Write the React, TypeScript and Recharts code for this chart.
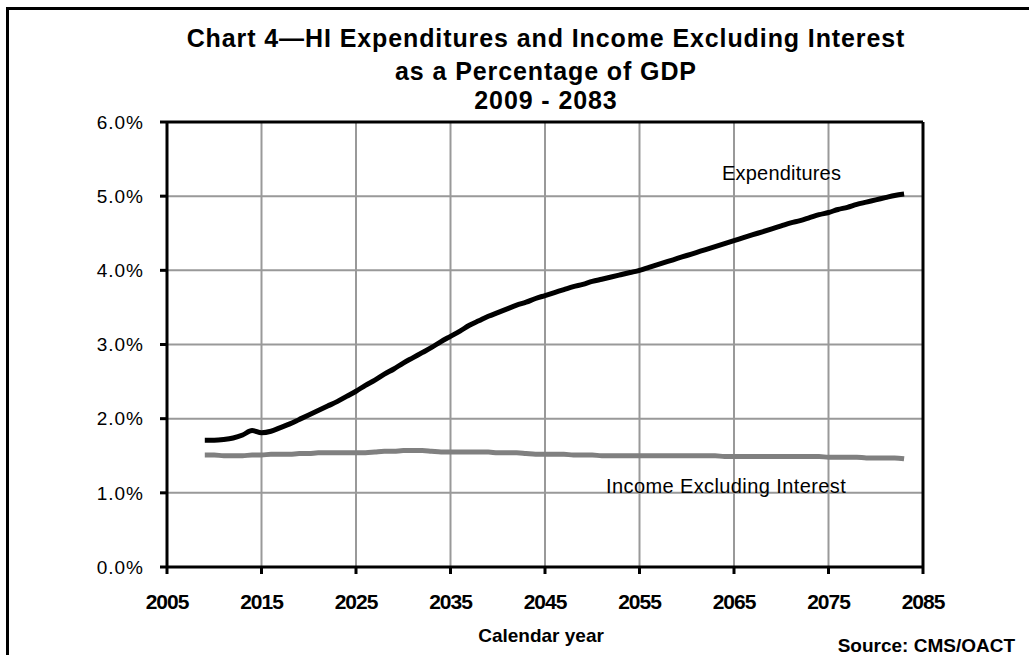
import React from 'react';
import { LineChart, Line, XAxis, YAxis, CartesianGrid, ReferenceLine } from 'recharts';

const years: number[] = [];
for (let y = 2009; y <= 2083; y++) years.push(y);

const expenditures = [
  1.71, 1.71, 1.72, 1.74, 1.78, 1.84, 1.81, 1.83, 1.88, 1.93,
  1.99, 2.05, 2.11, 2.17, 2.23, 2.30, 2.37, 2.45, 2.52, 2.60,
  2.67, 2.75, 2.82, 2.89, 2.96, 3.04, 3.11, 3.18, 3.26, 3.32,
  3.38, 3.43, 3.48, 3.53, 3.57, 3.62, 3.66, 3.70, 3.74, 3.78,
  3.81, 3.85, 3.88, 3.91, 3.94, 3.97, 4.00, 4.04, 4.08, 4.12,
  4.16, 4.20, 4.24, 4.28, 4.32, 4.36, 4.40, 4.44, 4.48, 4.52,
  4.56, 4.60, 4.64, 4.67, 4.71, 4.75, 4.78, 4.82, 4.85, 4.89,
  4.92, 4.95, 4.98, 5.01, 5.03,
];

const income = [
  1.51, 1.51, 1.50, 1.50, 1.50, 1.51, 1.51, 1.52, 1.52, 1.52,
  1.53, 1.53, 1.54, 1.54, 1.54, 1.54, 1.54, 1.54, 1.55, 1.56,
  1.56, 1.57, 1.57, 1.57, 1.56, 1.55, 1.55, 1.55, 1.55, 1.55,
  1.55, 1.54, 1.54, 1.54, 1.53, 1.52, 1.52, 1.52, 1.52, 1.51,
  1.51, 1.51, 1.50, 1.50, 1.50, 1.50, 1.50, 1.50, 1.50, 1.50,
  1.50, 1.50, 1.50, 1.50, 1.50, 1.49, 1.49, 1.49, 1.49, 1.49,
  1.49, 1.49, 1.49, 1.49, 1.49, 1.49, 1.48, 1.48, 1.48, 1.48,
  1.47, 1.47, 1.47, 1.47, 1.46,
];

const xTicks = [2005, 2015, 2025, 2035, 2045, 2055, 2065, 2075, 2085];
const yTicks = [0, 1, 2, 3, 4, 5, 6];

const titleLines = [
  'Chart 4\u2014HI Expenditures and Income Excluding Interest',
  'as a Percentage of GDP',
  '2009 - 2083',
];

const data = years.map((year, i) => ({
  year,
  expenditures: expenditures[i],
  income: income[i],
}));

const FONT = '"Liberation Sans", Arial, sans-serif';

export default function App() {
  return (
    <div style={{ position: 'absolute', left: 0, top: 0, width: 1029, height: 655, background: '#fff', overflow: 'hidden' }}>
      <div
        style={{
          position: 'absolute',
          left: 6,
          top: 7,
          width: 1030,
          height: 660,
          borderTop: '3px solid #000',
          borderLeft: '3px solid #000',
          boxSizing: 'border-box',
        }}
      />
      <div style={{ position: 'absolute', left: 0, top: 0 }}>
        <LineChart
          width={1029}
          height={655}
          data={data}
          margin={{ top: 122, right: 106, bottom: 48, left: 107 }}
        >
          <CartesianGrid stroke="#999" strokeWidth={2} />
          <XAxis
            dataKey="year"
            type="number"
            domain={[2005, 2085]}
            ticks={xTicks}
            height={40}
            interval={0}
            axisLine={{ stroke: '#000', strokeWidth: 3 }}
            tickLine={{ stroke: '#000', strokeWidth: 3 }}
            tickSize={7}
            tickMargin={20}
            tick={{ fill: '#000', fontSize: 21, fontWeight: 700, fontFamily: FONT, letterSpacing: -1 }}
          />
          <YAxis
            type="number"
            domain={[0, 6]}
            ticks={yTicks}
            width={60}
            interval={0}
            axisLine={{ stroke: '#000', strokeWidth: 3 }}
            tickLine={{ stroke: '#000', strokeWidth: 3 }}
            tickSize={7}
            tickMargin={16}
            tickFormatter={(v: number) => v.toFixed(1) + '%'}
            tick={{ fill: '#000', fontSize: 19, fontFamily: FONT, letterSpacing: 1 }}
          />
          <ReferenceLine y={6} stroke="#000" strokeWidth={3} />
          <ReferenceLine x={2085} stroke="#000" strokeWidth={3} />
          <Line
            type="monotone"
            dataKey="income"
            stroke="#808080"
            strokeWidth={5}
            dot={false}
            isAnimationActive={false}
          />
          <Line
            type="monotone"
            dataKey="expenditures"
            stroke="#000"
            strokeWidth={5}
            dot={false}
            isAnimationActive={false}
          />
        </LineChart>
      </div>
      <svg
        width={1029}
        height={655}
        style={{ position: 'absolute', left: 0, top: 0, pointerEvents: 'none' }}
      >
        <g fontFamily={FONT} fontWeight={700} fill="#000" textAnchor="middle" fontSize={25}>
          <text x={546} y={47} letterSpacing={0.9}>{titleLines[0]}</text>
          <text x={546} y={80} letterSpacing={0.9}>{titleLines[1]}</text>
          <text x={546} y={108.5} letterSpacing={0.9}>{titleLines[2]}</text>
        </g>
        <text x={541} y={642} textAnchor="middle" fontFamily={FONT} fontWeight={700} fontSize={19}>
          Calendar year
        </text>
        <text x={1015} y={652} textAnchor="end" fontFamily={FONT} fontWeight={700} fontSize={19}>
          Source: CMS/OACT
        </text>
        <text x={722} y={180} fontFamily={FONT} fontSize={20} letterSpacing={0.2}>
          Expenditures
        </text>
        <text x={606} y={493} fontFamily={FONT} fontSize={20} letterSpacing={0.4}>
          Income Excluding Interest
        </text>
      </svg>
    </div>
  );
}
